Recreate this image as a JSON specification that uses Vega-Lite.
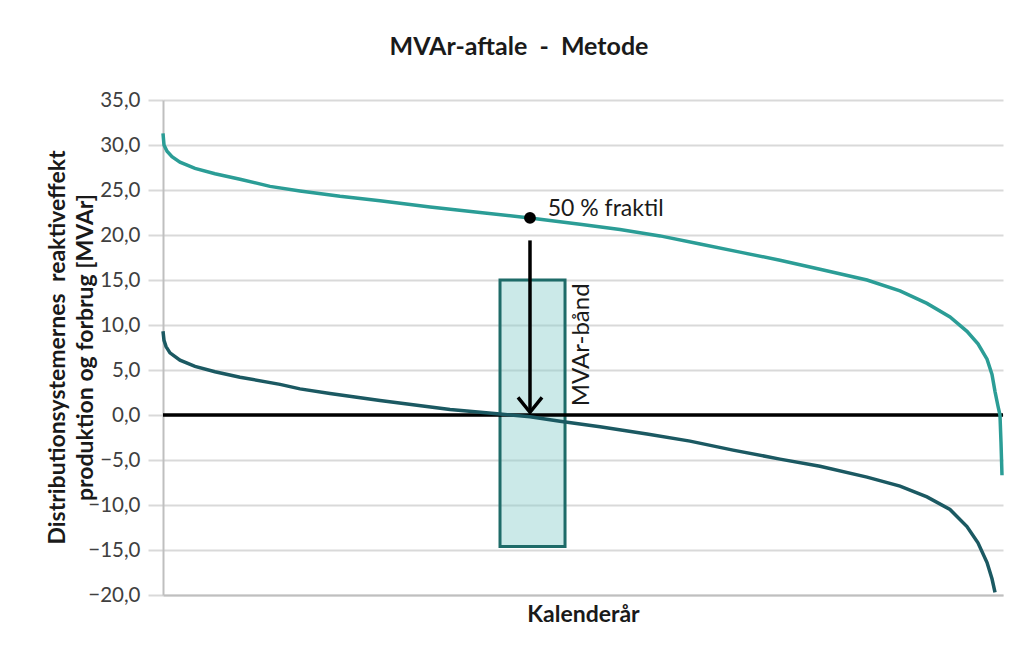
{
  "$schema": "https://vega.github.io/schema/vega-lite/v6.json",
  "autosize": {"type": "none"},
  "width": 840,
  "height": 495,
  "padding": {"left": 163, "top": 100, "right": 9, "bottom": 63},
  "background": "white",
  "title": {"text": "MVAr-aftale  \u00a0-\u00a0  Metode", "font": "Lato", "fontSize": 25, "fontWeight": "bold", "color": "#1a1a1a", "anchor": "middle", "dx": -64, "offset": 30},
  "config": {"view": {"stroke": null}, "font": "Lato"},
  "datasets": {
    "curves": [
      {"series": "upper", "x": 0, "y": 31.3},
      {"series": "upper", "x": 0.12, "y": 30.0},
      {"series": "upper", "x": 0.48, "y": 29.3},
      {"series": "upper", "x": 1.07, "y": 28.7},
      {"series": "upper", "x": 2.02, "y": 28.1},
      {"series": "upper", "x": 3.81, "y": 27.4},
      {"series": "upper", "x": 6.19, "y": 26.8},
      {"series": "upper", "x": 9.17, "y": 26.2},
      {"series": "upper", "x": 12.74, "y": 25.4},
      {"series": "upper", "x": 16.31, "y": 24.9},
      {"series": "upper", "x": 21.07, "y": 24.3},
      {"series": "upper", "x": 25.83, "y": 23.8},
      {"series": "upper", "x": 31.79, "y": 23.1},
      {"series": "upper", "x": 37.74, "y": 22.5},
      {"series": "upper", "x": 43.69, "y": 21.9},
      {"series": "upper", "x": 49.64, "y": 21.2},
      {"series": "upper", "x": 54.4, "y": 20.6},
      {"series": "upper", "x": 59.17, "y": 19.9},
      {"series": "upper", "x": 63.93, "y": 19.0},
      {"series": "upper", "x": 68.69, "y": 18.1},
      {"series": "upper", "x": 73.45, "y": 17.2},
      {"series": "upper", "x": 78.21, "y": 16.2},
      {"series": "upper", "x": 83.81, "y": 15.0},
      {"series": "upper", "x": 87.74, "y": 13.8},
      {"series": "upper", "x": 90.95, "y": 12.4},
      {"series": "upper", "x": 93.69, "y": 10.9},
      {"series": "upper", "x": 95.71, "y": 9.3},
      {"series": "upper", "x": 97.02, "y": 7.9},
      {"series": "upper", "x": 98.1, "y": 6.2},
      {"series": "upper", "x": 98.69, "y": 4.5},
      {"series": "upper", "x": 99.05, "y": 2.6},
      {"series": "upper", "x": 99.4, "y": 1.0},
      {"series": "upper", "x": 99.64, "y": 0.0},
      {"series": "upper", "x": 99.76, "y": -3.0},
      {"series": "upper", "x": 99.88, "y": -6.7},
      {"series": "lower", "x": 0, "y": 9.3},
      {"series": "lower", "x": 0.12, "y": 8.3},
      {"series": "lower", "x": 0.36, "y": 7.6},
      {"series": "lower", "x": 0.83, "y": 6.9},
      {"series": "lower", "x": 2.02, "y": 6.1},
      {"series": "lower", "x": 3.81, "y": 5.4},
      {"series": "lower", "x": 6.19, "y": 4.8},
      {"series": "lower", "x": 9.17, "y": 4.2},
      {"series": "lower", "x": 13.93, "y": 3.4},
      {"series": "lower", "x": 16.31, "y": 2.9},
      {"series": "lower", "x": 19.88, "y": 2.4},
      {"series": "lower", "x": 25.83, "y": 1.6},
      {"series": "lower", "x": 34.17, "y": 0.6},
      {"series": "lower", "x": 40.12, "y": 0.1},
      {"series": "lower", "x": 43.69, "y": -0.2},
      {"series": "lower", "x": 47.26, "y": -0.7},
      {"series": "lower", "x": 52.02, "y": -1.3},
      {"series": "lower", "x": 57.62, "y": -2.1},
      {"series": "lower", "x": 62.74, "y": -2.9},
      {"series": "lower", "x": 67.86, "y": -3.9},
      {"series": "lower", "x": 73.45, "y": -4.9},
      {"series": "lower", "x": 78.21, "y": -5.7},
      {"series": "lower", "x": 83.81, "y": -6.9},
      {"series": "lower", "x": 87.74, "y": -7.9},
      {"series": "lower", "x": 90.95, "y": -9.1},
      {"series": "lower", "x": 93.69, "y": -10.5},
      {"series": "lower", "x": 95.71, "y": -12.4},
      {"series": "lower", "x": 97.02, "y": -14.2},
      {"series": "lower", "x": 98.1, "y": -16.4},
      {"series": "lower", "x": 98.69, "y": -18.2},
      {"series": "lower", "x": 99.05, "y": -19.7}
    ],
    "box": [{"x": 40.12, "x2": 47.86, "y": 15.0, "y2": -14.6}],
    "zero": [{"x": 0, "x2": 100, "y": 0}],
    "shaft": [{"x": 43.69, "y": 19.4, "y2": 0.4}],
    "head": [{"x": 43.69, "y": 0.3}],
    "dot": [{"x": 43.69, "y": 21.9}],
    "frakt": [{"x": 45.8, "y": 22.9, "text": "50 % fraktil"}],
    "band": [{"x": 49.9, "y": 7.8, "text": "MVAr-bånd"}]
  },
  "encoding": {
    "x": {
      "field": "x", "type": "quantitative",
      "scale": {"domain": [0, 100], "nice": false, "zero": false},
      "axis": {"title": "Kalenderår", "labels": false, "ticks": false, "grid": false, "domainColor": "#bfbfbf", "domainWidth": 2, "titleFont": "Lato", "titleFontSize": 23, "titleFontWeight": "bold", "titleColor": "#1a1a1a", "titlePadding": 8}
    },
    "y": {
      "field": "y", "type": "quantitative",
      "scale": {"domain": [-20, 35], "nice": false, "zero": false},
      "axis": {
        "values": [-20, -15, -10, -5, 0, 5, 10, 15, 20, 25, 30, 35],
        "labelExpr": "replace(format(datum.value, '.1f'), '.', ',')",
        "labelFont": "Lato", "labelFontSize": 20.5, "labelColor": "#404040", "labelPadding": 8,
        "tickSize": 15, "tickColor": "#d9d9d9", "tickWidth": 2,
        "gridColor": "#d9d9d9", "gridWidth": 2,
        "domainColor": "#bfbfbf", "domainWidth": 2,
        "title": ["Distributionsystemernes \u00a0reaktiveffekt", "produktion og forbrug [MVAr]"],
        "titleFont": "Lato", "titleFontSize": 23, "titleFontWeight": "bold", "titleColor": "#1a1a1a",
        "titleX": -106, "titleY": 247, "titleAlign": "center", "titleBaseline": "middle", "titleLineHeight": 28, "titleAngle": -90
      }
    }
  },
  "layer": [
    {
      "data": {"name": "box"},
      "mark": {"type": "rect", "fill": "#8ccfcb", "fillOpacity": 0.45, "stroke": "#1e6b68", "strokeWidth": 3},
      "encoding": {"x2": {"field": "x2"}, "y2": {"field": "y2"}}
    },
    {
      "data": {"name": "zero"},
      "mark": {"type": "rule", "color": "#000000", "strokeWidth": 3.5},
      "encoding": {"x2": {"field": "x2"}}
    },
    {
      "data": {"name": "curves"},
      "mark": {"type": "line", "strokeWidth": 3.5},
      "encoding": {
        "color": {"field": "series", "type": "nominal", "scale": {"domain": ["upper", "lower"], "range": ["#2b9d96", "#1b5962"]}, "legend": null}
      }
    },
    {
      "data": {"name": "shaft"},
      "mark": {"type": "rule", "color": "#000000", "strokeWidth": 3.5},
      "encoding": {"y2": {"field": "y2"}}
    },
    {
      "data": {"name": "head"},
      "mark": {"type": "point", "shape": "M -1 -1.25 L 0 0 L 1 -1.25", "filled": false, "stroke": "#000000", "strokeWidth": 3.5, "size": 576, "opacity": 1}
    },
    {
      "data": {"name": "dot"},
      "mark": {"type": "point", "shape": "circle", "filled": true, "color": "#000000", "size": 140, "opacity": 1}
    },
    {
      "data": {"name": "frakt"},
      "mark": {"type": "text", "align": "left", "baseline": "middle", "font": "Lato", "fontSize": 23, "color": "#1a1a1a"},
      "encoding": {"text": {"field": "text"}}
    },
    {
      "data": {"name": "band"},
      "mark": {"type": "text", "align": "center", "baseline": "middle", "angle": 270, "font": "Lato", "fontSize": 24, "color": "#1a1a1a"},
      "encoding": {"text": {"field": "text"}}
    }
  ]
}
